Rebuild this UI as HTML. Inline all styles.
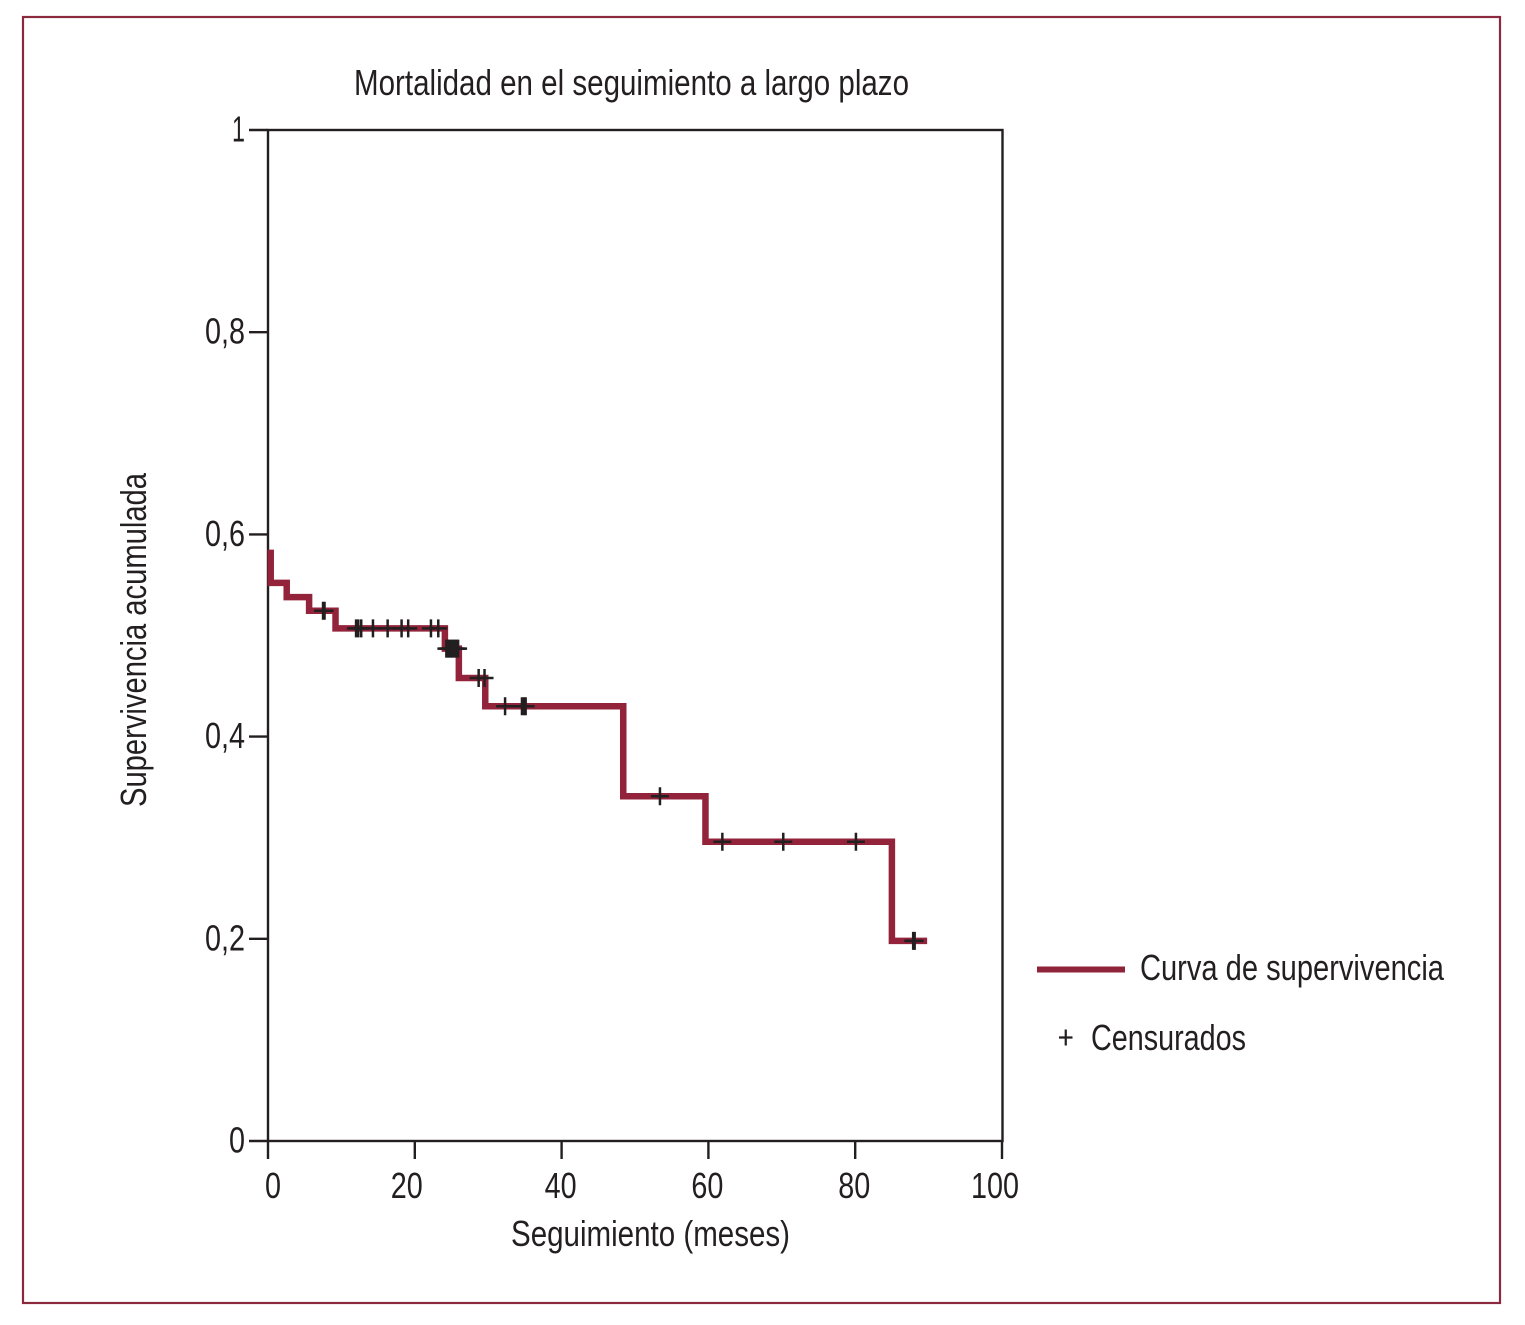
<!DOCTYPE html>
<html lang="es">
<head>
<meta charset="utf-8">
<title>Mortalidad en el seguimiento a largo plazo</title>
<style>
  html, body { margin: 0; padding: 0; background: #fff; }
  svg { display: block; }
  text { font-family: "Liberation Sans", sans-serif; font-size: 36px; fill: #231f20; }
</style>
</head>
<body>
<svg id="chart" xmlns="http://www.w3.org/2000/svg" width="1525" height="1325" viewBox="0 0 1525 1325">
  <rect x="0" y="0" width="1525" height="1325" fill="#ffffff"/>
  <rect x="23" y="17" width="1477" height="1286" fill="none" stroke="#8b2a3f" stroke-width="2.2"/>
  <text x="354" y="95" textLength="555" lengthAdjust="spacingAndGlyphs">Mortalidad en el seguimiento a largo plazo</text>
  <rect x="268" y="130" width="734.500" height="1011" fill="none" stroke="#231f20" stroke-width="2.4"/>
  <g id="ticks"></g>
  <path id="curve" fill="none" stroke="#93233b" stroke-width="6.5" stroke-linejoin="miter" stroke-linecap="butt"/>
  <g id="censored"></g>
  <text x="511" y="1246" textLength="279" lengthAdjust="spacingAndGlyphs">Seguimiento (meses)</text>
  <text transform="translate(146 807) rotate(-90)" x="0" y="0" textLength="334" lengthAdjust="spacingAndGlyphs">Supervivencia acumulada</text>
  <g>
    <line x1="1037" y1="969.5" x2="1125" y2="969.5" stroke="#8e2339" stroke-width="6"/>
    <text x="1140" y="980" textLength="304" lengthAdjust="spacingAndGlyphs">Curva de supervivencia</text>
    <path d="M1059 1037.500H1072.500M1065.750 1029.500V1045.500" stroke="#231f20" stroke-width="2.2" fill="none"/>
    <text x="1091" y="1050" textLength="155" lengthAdjust="spacingAndGlyphs">Censurados</text>
  </g>
</svg>
<script>
const xTickValues = [0, 20, 40, 60, 80, 100];
const yTickValues = [0, 0.2, 0.4, 0.6, 0.8, 1];
const yTickLabels = ["0", "0,2", "0,4", "0,6", "0,8", "1"];
const stepTimes = [0.37, 2.55, 5.6, 9.2, 24.1, 26.0, 29.6, 48.4, 59.6, 85.0, 89.8];
const stepSurvival = [0.585, 0.552, 0.538, 0.5245, 0.507, 0.487, 0.458, 0.43, 0.341, 0.296, 0.198];
const censoredTimes = [7.5, 7.7, 12.0, 12.3, 12.7, 14.3, 16.3, 18.2, 19.1, 22.2, 23.2, 24.3, 24.5, 24.7, 24.9, 25.1, 25.3, 25.5, 25.7, 25.9, 28.7, 29.5, 32.3, 34.6, 34.9, 35.1, 53.4, 61.9, 70.2, 80.1, 87.9, 88.1];

const NS = "http://www.w3.org/2000/svg";
const xScale = t => 268 + t * 7.34;
const yScale = s => 1141 - s * 1011;

function survivalAt(t) {
  let s = stepSurvival[0];
  for (let i = 0; i < stepTimes.length - 1; i++) {
    if (t >= stepTimes[i]) s = stepSurvival[i + 1];
  }
  return s;
}
function labelWidth(str) {
  let w = 0;
  for (const c of str) w += c === "," ? 8 : (c === "1" && str.length === 1 ? 13 : 16);
  return w;
}

const ticks = document.getElementById("ticks");
xTickValues.forEach(v => {
  const l = document.createElementNS(NS, "line");
  
  
  l.setAttribute("x1", xScale(v));
  l.setAttribute("x2", xScale(v));
  l.setAttribute("y1", yScale(0));
  l.setAttribute("y2", yScale(0) + 18);
  l.setAttribute("stroke", "#231f20");
  l.setAttribute("stroke-width", "2.4");
  ticks.appendChild(l);
  const t = document.createElementNS(NS, "text");
  
  
  const str = String(v);
  const shift = v === 0 ? 5 : (v === 100 ? -7 : (v === 20 ? -8 : -1));
  const w = labelWidth(str);
  t.setAttribute("x", xScale(v) + shift - w / 2);
  t.setAttribute("y", 1198);
  t.setAttribute("textLength", w);
  t.setAttribute("lengthAdjust", "spacingAndGlyphs");
  t.textContent = str;
  ticks.appendChild(t);
});
yTickValues.forEach((v, i) => {
  const l = document.createElementNS(NS, "line");
  
  
  l.setAttribute("x1", 249);
  l.setAttribute("x2", 268);
  l.setAttribute("y1", yScale(v));
  l.setAttribute("y2", yScale(v));
  l.setAttribute("stroke", "#231f20");
  l.setAttribute("stroke-width", "2.4");
  ticks.appendChild(l);
  const t = document.createElementNS(NS, "text");
  
  
  const str = yTickLabels[i];
  const w = labelWidth(str);
  t.setAttribute("x", 245 - w);
  t.setAttribute("y", yScale(v) + 11.5);
  t.setAttribute("textLength", w);
  t.setAttribute("lengthAdjust", "spacingAndGlyphs");
  t.textContent = str;
  ticks.appendChild(t);
});

let d = "M" + xScale(stepTimes[0]) + " " + yScale(stepSurvival[0]);
for (let i = 1; i < stepTimes.length; i++) {
  d += "V" + yScale(stepSurvival[i]) + "H" + xScale(stepTimes[i]);
}
document.getElementById("curve").setAttribute("d", d);

const censored = document.getElementById("censored");
censoredTimes.forEach(t => {
  const p = document.createElementNS(NS, "path");
  
  
  const x = xScale(t), y = yScale(survivalAt(t));
  p.setAttribute("d", "M" + (x - 9) + " " + y + "H" + (x + 9) + "M" + x + " " + (y - 9) + "V" + (y + 9));
  p.setAttribute("stroke", "#231f20");
  p.setAttribute("stroke-width", "2.5");
  p.setAttribute("fill", "none");
  censored.appendChild(p);
});
</script>
</body>
</html>
